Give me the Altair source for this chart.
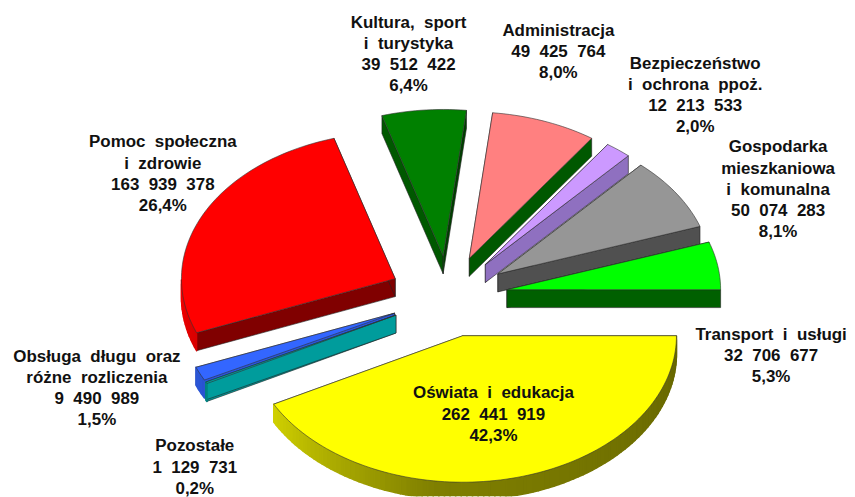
import math
import altair as alt
import pandas as pd

# Clockwise from the 90-degree direction
categories = ["Oświata i edukacja", "Pozostałe", "Obsługa długu", "Pomoc społeczna", "Kultura",
              "Administracja", "Bezpieczeństwo", "Gospodarka", "Transport"]
values = [262441919, 1129731, 9490989, 163939378, 39512422, 49425764, 12213533, 50074283, 32706677]
top_colors = ["#FFFF00", "#00A0A0", "#3366FF", "#FF0000", "#008000", "#FF8080", "#CC99FF", "#969696", "#00FF00"]
start_faces = ["#C8C800", "#009C9C", "#2A55DD", "#800000", "#004000", "#005800", "#8F70C0", "#505050", "#006000"]
end_faces = ["#666600", "#009C9C", "#2A55DD", "#800000", "#005800", "#C06060", "#8F70C0", "#505050", "#006000"]
draw_order = [4, 5, 6, 7, 8, 3, 2, 1, 0]

label_lines = [
    ["Kultura, sport", "i turystyka", "39 512 422", "6,4%"],
    ["Administracja", "49 425 764", "8,0%"],
    ["Bezpieczeństwo", "i ochrona ppoż.", "12 213 533", "2,0%"],
    ["Gospodarka", "mieszkaniowa", "i komunalna", "50 074 283", "8,1%"],
    ["Transport i usługi", "32 706 677", "5,3%"],
    ["Oświata i edukacja", "262 441 919", "42,3%"],
    ["Pomoc społeczna", "i zdrowie", "163 939 378", "26,4%"],
    ["Obsługa długu oraz", "różne rozliczenia", "9 490 989", "1,5%"],
    ["Pozostałe", "1 129 731", "0,2%"],
]
label_x = [409, 559, 696, 779, 772, 494, 163, 97, 195]
label_y = [22, 30, 63, 147, 335, 394, 142, 357, 447]

CX, CY, A, B, EXPLODE, DEPTH = 449.0, 296.5, 214.0, 147.0, 0.277, 18.0


def pt(t):
    r = math.radians(t)
    return A * math.sin(r), -B * math.cos(r)


def shade(hex_color, f):
    rgb = [int(hex_color[i:i + 2], 16) for i in (1, 3, 5)]
    return "#" + "".join(f"{min(255, round(c * f)):02X}" for c in rgb)


def rim_factor(t):
    if t < 188:
        return 0.40 + 0.10 * (t - 90) / 98
    if t < 243:
        return 0.50 + 0.32 * (t - 188) / 55
    return min(1.0, 0.82 + 0.13 * (t - 243) / 27)


rows = []
pid = 0


def add(poly, fill, stroke, sw):
    global pid
    pid += 1
    closed = poly + [poly[0]]
    for k, (x, y) in enumerate(closed):
        rows.append({"x": x, "y": y, "pid": pid, "k": k, "fill": fill, "stroke": stroke, "sw": sw})


total = sum(values)
angles = [90.0]
for v in values:
    angles.append(angles[-1] + 360.0 * v / total)

for i in draw_order:
    t0, t1 = angles[i], angles[i + 1]
    mid = (t0 + t1) / 2
    ex, ey = pt(mid)
    tx, ty = CX + EXPLODE * ex, CY + EXPLODE * ey
    n = max(2, int((t1 - t0) / 1.5))
    ts = [t0 + (t1 - t0) * j / n for j in range(n + 1)]
    arc = [(tx + pt(t)[0], ty + pt(t)[1]) for t in ts]
    # radial side faces
    for (px, py), col in ((arc[0], end_faces[i]), (arc[-1], start_faces[i])):
        add([(tx, ty), (px, py), (px, py + DEPTH), (tx, ty + DEPTH)], col, "#222222", 0.6)
    # outer rim, shaded piece by piece
    for j in range(n):
        tm = (ts[j] + ts[j + 1]) / 2
        if 90 <= tm <= 270:
            col = shade(top_colors[i], rim_factor(tm))
            a0, a1 = arc[j], arc[j + 1]
            add([a0, a1, (a1[0], a1[1] + DEPTH), (a0[0], a0[1] + DEPTH)], col, col, 1.5)
    # top surface
    add([(tx, ty)] + arc, top_colors[i], "#333333", 0.6)

df = pd.DataFrame(rows)
x_scale = alt.Scale(domain=[8, 845], range=[0, 839], nice=False, zero=False)
y_scale = alt.Scale(domain=[8, 497], range=[0, 489], nice=False, zero=False)

shapes = alt.Chart(df).mark_line(interpolate="linear", strokeJoin="round", clip=True).encode(
    x=alt.X("x:Q", scale=x_scale, axis=None),
    y=alt.Y("y:Q", scale=y_scale, axis=None),
    detail="pid:N",
    order="k:Q",
    fill=alt.Fill("fill:N", scale=None),
    stroke=alt.Stroke("stroke:N", scale=None),
    strokeWidth=alt.StrokeWidth("sw:Q", scale=None),
)

text_rows = []
for lines, lx, ly in zip(label_lines, label_x, label_y):
    for j, line in enumerate(lines):
        text_rows.append({"x": lx, "y": ly + j * 21.3, "t": line.replace(" ", " \u00a0")})

labels = alt.Chart(pd.DataFrame(text_rows)).mark_text(
    font="Liberation Sans", fontWeight="bold", fontSize=17, color="#111111",
    align="center", baseline="middle",
).encode(
    x=alt.X("x:Q", scale=x_scale, axis=None),
    y=alt.Y("y:Q", scale=y_scale, axis=None),
    text="t:N",
)

chart = (shapes + labels).properties(width=839, height=489, padding=0).configure_view(stroke=None)
chart.save("out.html", embed_options={"renderer": "svg", "actions": False})
